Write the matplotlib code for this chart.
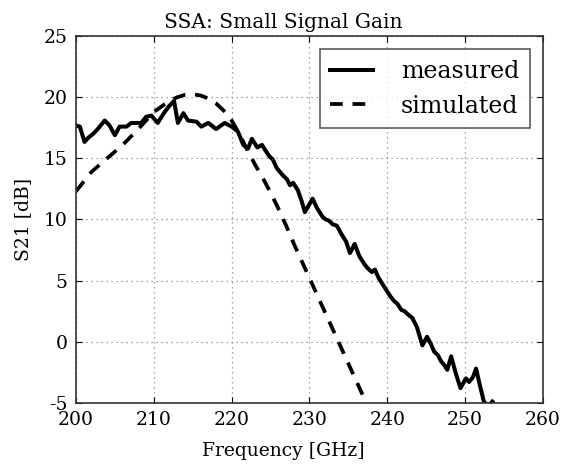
import matplotlib
matplotlib.use("Agg")
import matplotlib.pyplot as plt

# measured small signal gain
meas_f = [200.0, 200.5, 201.1, 201.6, 202.2, 202.8, 203.7, 204.3, 205.0, 205.6,
          206.5, 207.1, 207.8, 208.4, 209.0, 209.7, 210.5, 211.4, 212.0, 212.6,
          213.1, 213.8, 214.4, 215.5, 216.1, 217.0, 218.0, 219.1, 220.0, 220.8,
          221.5, 222.1, 222.6, 223.3, 223.9, 224.4, 224.8, 225.3, 225.8, 226.6,
          227.1, 227.5, 227.9, 228.5, 229.0, 229.4, 230.4, 231.0, 231.7, 232.1,
          232.5, 233.0, 233.5, 234.2, 234.7, 235.2, 235.8, 236.4, 237.1, 237.5,
          238.0, 238.4, 238.9, 239.3, 239.8, 240.4, 240.9, 241.3, 241.8, 242.2,
          242.7, 243.2, 243.8, 244.5, 245.1, 245.6, 246.0, 246.5, 246.9, 247.3,
          247.7, 248.2, 248.8, 249.4, 250.1, 250.5, 251.0, 251.4, 251.9, 252.4,
          253.0, 253.5]
meas_g = [17.7, 17.6, 16.35, 16.7, 17.0, 17.4, 18.1, 17.7, 16.9, 17.6,
          17.6, 17.9, 17.9, 17.9, 18.4, 18.5, 17.9, 18.8, 19.3, 19.7,
          17.9, 18.7, 18.1, 18.0, 17.6, 17.9, 17.4, 17.9, 17.6, 17.2,
          16.1, 15.8, 16.6, 15.9, 16.1, 15.6, 15.2, 14.9, 14.2, 13.6,
          13.3, 12.8, 13.0, 12.4, 11.5, 10.6, 11.7, 10.9, 10.2, 10.0,
          9.9, 9.6, 9.5, 8.7, 8.2, 7.25, 8.0, 7.0, 6.3, 6.0,
          5.7, 5.9, 5.2, 4.8, 4.3, 3.7, 3.3, 3.1, 2.6, 2.5,
          2.2, 1.95, 1.2, -0.3, 0.4, -0.2, -0.8, -1.1, -1.6, -1.9,
          -2.3, -1.2, -2.6, -3.8, -3.0, -3.3, -2.9, -2.2, -3.6, -4.9,
          -5.3, -4.9]

# simulated gain
sim_f = [200, 202, 204, 206, 208, 210, 212, 213, 214, 215, 216, 217, 218, 219,
         220, 221, 222, 223, 224, 225, 226, 227, 228, 229, 230, 231, 232, 233,
         234, 235, 236, 237, 238]
sim_g = [12.3, 13.9, 15.0, 16.1, 17.4, 18.8, 19.7, 20.0, 20.2, 20.25, 20.15,
         19.9, 19.5, 18.9, 18.1, 17.0, 15.7, 14.5, 13.4, 12.2, 10.9, 9.5, 8.0,
         6.6, 5.2, 3.8, 2.4, 1.0, -0.4, -1.8, -3.2, -4.6, -6.0]

xticks = [200, 210, 220, 230, 240, 250, 260]
yticks = [-5, 0, 5, 10, 15, 20, 25]

plt.rcParams['font.family'] = ['DejaVu Serif']
plt.rcParams['axes.unicode_minus'] = False

fig = plt.figure(figsize=(5.71, 4.70), dpi=100)
ax = fig.add_axes([0.133, 0.143, 0.818, 0.780])

ax.plot(meas_f, meas_g, color='black', lw=2.9, solid_joinstyle='round',
        label='measured')
ax.plot(sim_f, sim_g, color='black', lw=2.7, dashes=(3.4, 2.6),
        label='simulated')

ax.set_xlim(200, 260)
ax.set_ylim(-5, 25)
ax.set_xticks(xticks)
ax.set_yticks(yticks)
ax.tick_params(direction='in', top=True, right=True, labelsize=13.5,
               length=4, width=0.8)
ax.tick_params(axis='x', pad=6)
ax.tick_params(axis='y', pad=6)
ax.grid(True, linestyle=(0, (1, 3)), color='#888888', lw=0.9)
for s in ax.spines.values():
    s.set_linewidth(1.2)
    s.set_color('#333333')

ax.set_title('SSA: Small Signal Gain', fontsize=14.5, pad=6, x=0.443)
ax.set_xlabel('Frequency [GHz]', fontsize=13.5, labelpad=9, x=0.443)
ax.set_ylabel('S21 [dB]', fontsize=13.5, labelpad=8)

leg = ax.legend(loc='upper right', fontsize=17, frameon=True, fancybox=False,
                edgecolor='#333333', handlelength=1.8, handletextpad=1.2,
                borderpad=0.45, labelspacing=0.5, borderaxespad=0.55)
leg.get_frame().set_linewidth(1.2)

fig.savefig('out.png', dpi=100)
